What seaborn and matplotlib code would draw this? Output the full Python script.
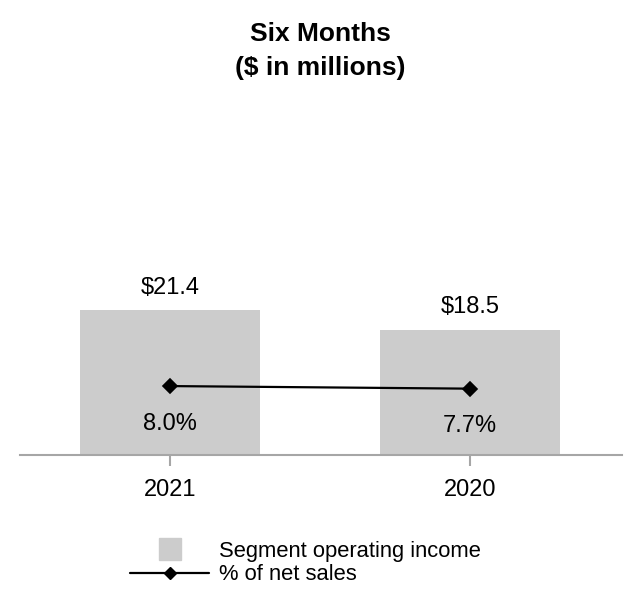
import matplotlib
matplotlib.use("Agg")
import matplotlib.pyplot as plt
import seaborn as sns
import pandas as pd
from matplotlib.lines import Line2D

years = ["2021", "2020"]
income = [21.4, 18.5]
pct = [8.0, 7.7]
income_labels = ["$21.4", "$18.5"]
pct_labels = ["8.0%", "7.7%"]
title = "Six Months\n($ in millions)"
legend_labels = ["Segment operating income", "% of net sales"]

sns.set_theme(style="white")
plt.rcParams["font.family"] = ["Liberation Sans", "DejaVu Sans"]
plt.rcParams["text.color"] = "black"
plt.rcParams["xtick.color"] = "black"

df = pd.DataFrame({"year": years, "income": income, "pct": pct})

fig = plt.figure(figsize=(6.4, 6.12), dpi=100)
ax = fig.add_axes([20 / 640, 1 - 455 / 612, 602 / 640, 305 / 612])

sns.barplot(data=df, x="year", y="income", order=years, color="#cccccc",
            saturation=1, width=0.6, ax=ax, edgecolor="none", linewidth=0)
ax.set_xlim(-0.5, 1.507)
ax.set_ylim(0, 45)

ax2 = ax.twinx()
sns.pointplot(data=df, x="year", y="pct", order=years, color="black",
              markers="D", linestyles="-", ax=ax2, markersize=7, linewidth=1.6)
ax2.set_ylim(0, 35.4)
ax2.set_xlim(-0.5, 1.507)

for i, (v, lab) in enumerate(zip(income, income_labels)):
    ax.annotate(lab, (i, v), xytext=(0, 16), textcoords="offset points",
                ha="center", va="center", fontsize=17, color="black")
for i, (v, lab) in enumerate(zip(pct, pct_labels)):
    ax2.annotate(lab, (i, v), xytext=(0, -27), textcoords="offset points",
                 ha="center", va="center", fontsize=17, color="black")

for a in (ax, ax2):
    for s in ["top", "right", "left"]:
        a.spines[s].set_visible(False)
    a.set_yticks([])
    a.set_ylabel("")
    a.set_xlabel("")
ax2.spines["bottom"].set_visible(False)
ax2.tick_params(axis="x", bottom=False, labelbottom=False)
ax.spines["bottom"].set_color("#a6a6a6")
ax.spines["bottom"].set_linewidth(1.5)
ax.tick_params(axis="x", bottom=True, length=8, width=1.5, color="#a6a6a6",
               pad=9, labelsize=17, labelcolor="black")

fig.text(0.5, 1 - 51 / 612, title, ha="center", va="center", fontsize=19,
         fontweight="bold", linespacing=1.5, color="black")

handles = [
    Line2D([], [], linestyle="none", marker="s", markersize=16,
           markerfacecolor="#cccccc", markeredgecolor="#cccccc"),
    Line2D([], [], color="black", linewidth=1.6, marker="D", markersize=6),
]
leg = fig.legend(handles, legend_labels, loc="upper left",
                 bbox_to_anchor=(130 / 640, 1 - 541 / 612), frameon=False,
                 fontsize=15.8, handlelength=3.6, handletextpad=0.45,
                 labelspacing=0.1, borderpad=0, borderaxespad=0, numpoints=1)
for t in leg.get_texts():
    t.set_color("black")

fig.savefig("out.png", dpi=100)
